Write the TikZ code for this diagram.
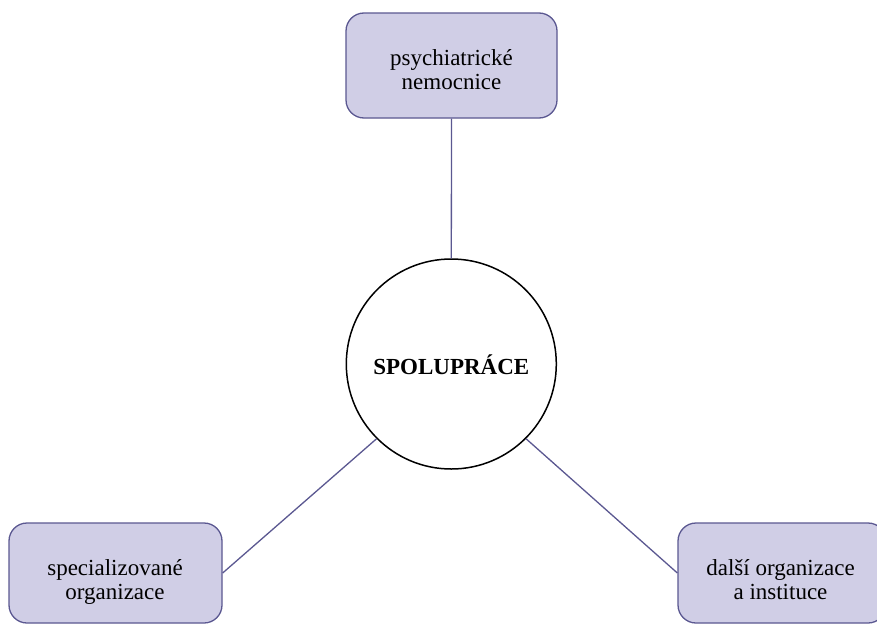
\documentclass[tikz,border=0pt]{standalone}
\usepackage{fontspec}
\setmainfont{Liberation Serif}
\definecolor{linec}{HTML}{5B5891}
\definecolor{boxfill}{HTML}{D0CEE6}
\begin{document}
\begin{tikzpicture}[x=1pt,y=-1pt,
  box/.style={draw=linec, fill=boxfill, rounded corners=18pt, line width=1.3pt, inner sep=0pt},
  lbl/.style={align=center, font=\fontsize{23}{24.3}\selectfont, anchor=base, inner sep=0pt},
  conn/.style={draw=linec, line width=1.3pt}]
\clip (0,0) rectangle (877,624);
\fill[white] (0,0) rectangle (877,624);
\node[box, minimum width=211pt, minimum height=105pt] (tb) at (451.5,65.5) {};
\node[box, minimum width=213pt, minimum height=100pt] (lb) at (115.5,573) {};
\node[box, minimum width=208pt, minimum height=100pt] (rb) at (782,573) {};
\node[circle, draw=black, fill=white, line width=1.5pt, minimum size=210pt, inner sep=0pt] (c) at (451.3,364) {};
\node[lbl] (tt) at (451.5,89.3) {psychiatrické\\nemocnice};
\node[lbl] (lt) at (115,599.3) {specializované\\organizace};
\node[lbl] (rt) at (780.5,599.3) {další organizace\\a instituce};
\node[font=\fontsize{23}{24}\selectfont\bfseries, anchor=base, inner sep=0pt] (ct) at (451.3,374) {SPOLUPRÁCE};
\draw[conn] (tb.south) -- (c.north);
\draw[conn] (c.225) -- (lb.east);
\draw[conn] (c.-45) -- (rb.west);
\end{tikzpicture}
\end{document}
